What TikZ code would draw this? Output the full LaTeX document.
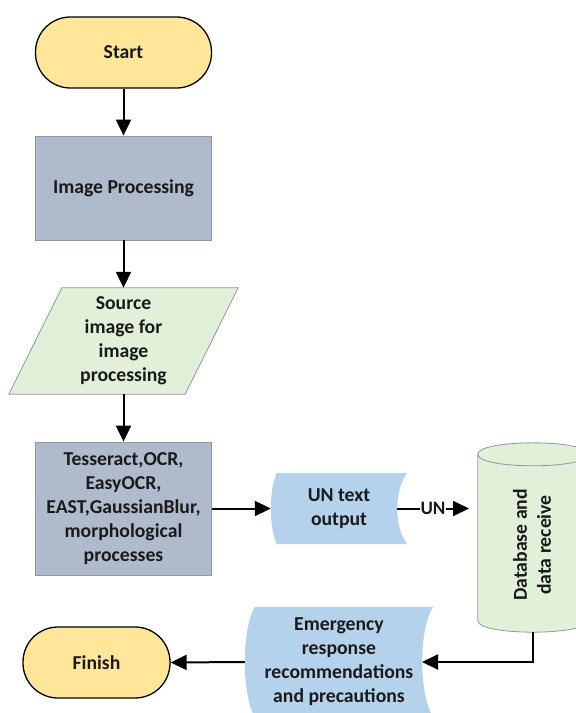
\documentclass[tikz,border=0pt]{standalone}
\usepackage{fontspec}
\setmainfont{Carlito}
\usetikzlibrary{arrows.meta,calc,backgrounds}
\definecolor{termfill}{HTML}{FFE699}
\definecolor{procfill}{HTML}{AFBACD}
\definecolor{procline}{HTML}{8C96A8}
\definecolor{greenfill}{HTML}{E2F0D9}
\definecolor{blufill}{HTML}{B4D2EC}
\definecolor{txt}{HTML}{1A1A1A}
\tikzset{
  lbl/.style={font=\bfseries\fontsize{19.7}{24}\selectfont, text=txt, align=center},
  term/.style={lbl, draw=black, line width=1.3pt, fill=termfill, rounded corners=35pt,
    minimum width=176pt, minimum height=71pt, inner sep=0pt},
  procbox/.style={lbl, draw=procline, line width=0.8pt, fill=procfill, inner sep=0pt},
  plainbox/.style={lbl, inner sep=0pt},
  arr/.style={line width=2pt, draw=black, -{Triangle[length=16pt,width=15pt]}},
  outl/.style={draw=procline, line width=0.8pt}
}
\begin{document}
\begin{tikzpicture}[x=1pt,y=-1pt]
\useasboundingbox (0,0) rectangle (576,713);
\clip (0,0) rectangle (576,713);

\node[term] (start) at (123.5,52.5) {Start};
\node[procbox, minimum width=176pt, minimum height=104pt] (imgp) at (123.5,188) {Image Processing};
\node[plainbox, minimum width=176pt, minimum height=106pt] (src) at (123.5,341) {Source\\image for\\image\\processing};
\node[procbox, minimum width=176pt, minimum height=133pt] (tess) at (123.5,508.5) {Tesseract,OCR,\\EasyOCR,\\EAST,GaussianBlur,\\morphological\\processes};
\node[plainbox, minimum width=136pt, minimum height=71pt] (un) at (339,508.5) {UN text\\output};
\node[plainbox, minimum width=110pt, minimum height=189pt] (db) at (533,537.5) {};
\node[plainbox, rotate=90] (dbtext) at (532,545) {Database and\\data receive};
\node[plainbox, minimum width=188pt, minimum height=110pt] (em) at (339,662) {Emergency\\response\\recommendations\\and precautions};
\node[term, minimum width=147pt] (fin) at (96.5,662.5) {Finish};

\coordinate (unr) at (397,508.5);
\coordinate (dbl) at (469,508.5);
\coordinate (emr) at (422,662);

\begin{pgfonlayer}{background}
  % parallelogram
  \path[outl, fill=greenfill]
    ($(src.north west)+(26.5,0)$) -- ($(src.north east)+(26.5,0)$) --
    ($(src.south east)+(-26.5,0)$) -- ($(src.south west)+(-26.5,0)$) -- cycle;
  % UN text output (stored data)
  \fill[blufill]
    ($(un.north west)+(6,0)$) -- (un.north east)
    .. controls ($(un.north east)+(-13.3,18)$) and ($(un.south east)+(-13.3,-18)$) .. (un.south east)
    -- ($(un.south west)+(6,0)$)
    .. controls ($(un.south west)+(-2,-18)$) and ($(un.north west)+(-2,18)$) .. ($(un.north west)+(6,0)$) -- cycle;
  % Emergency shape
  \fill[blufill]
    ($(em.north west)+(10,0)$) -- (em.north east)
    .. controls ($(em.north east)+(-14.7,23)$) and ($(em.south east)+(-14.7,-23)$) .. (em.south east)
    -- ($(em.south west)+(10,0)$)
    .. controls ($(em.south west)+(-3.3,-23)$) and ($(em.north west)+(-3.3,23)$) .. ($(em.north west)+(10,0)$) -- cycle;
  % cylinder
  \path[outl, fill=greenfill]
    ($(db.north west)+(0,11.5)$) -- ($(db.south west)+(0,-11.5)$)
    .. controls ($(db.south west)+(0,3.8)$) and ($(db.south east)+(0,3.8)$) .. ($(db.south east)+(0,-11.5)$)
    -- ($(db.north east)+(0,11.5)$)
    .. controls ($(db.north east)+(0,-3.8)$) and ($(db.north west)+(0,-3.8)$) .. ($(db.north west)+(0,11.5)$) -- cycle;
  \draw[outl]
    ($(db.north west)+(0,11.5)$) .. controls ($(db.north west)+(0,26.8)$) and ($(db.north east)+(0,26.8)$) .. ($(db.north east)+(0,11.5)$);
\end{pgfonlayer}

\draw[arr] (start) -- (imgp);
\draw[arr] (imgp) -- (src);
\draw[arr] (src) -- (tess);
\draw[arr] (tess) -- (un);
\draw[arr] (unr) -- node[fill=white, inner sep=0.5pt, font=\bfseries\fontsize{19}{22}\selectfont, text=txt] (unlbl) {UN} (dbl);
\draw[arr] (db.south) |- (emr);
\draw[arr] (em.west) -- (fin.east);
\end{tikzpicture}
\end{document}
